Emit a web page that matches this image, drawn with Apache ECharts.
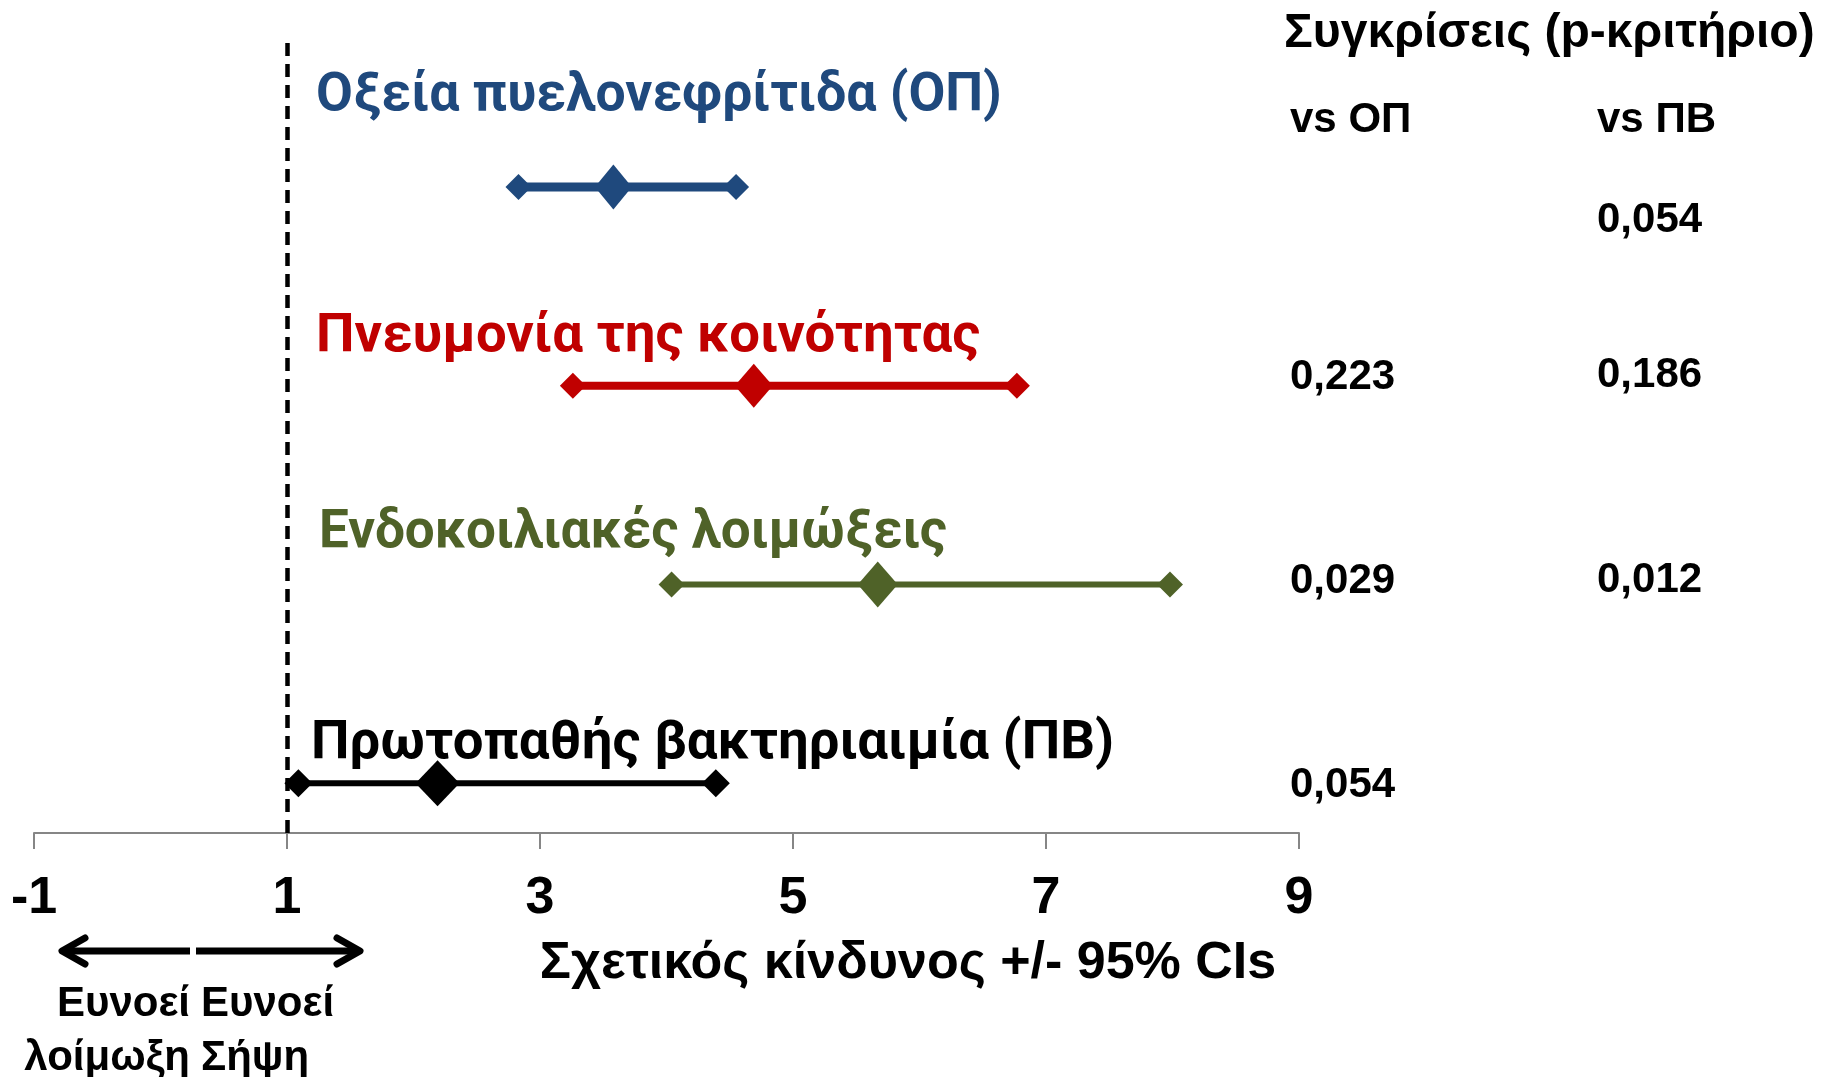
<!DOCTYPE html>
<html><head><meta charset="utf-8">
<script src="https://cdn.jsdelivr.net/npm/echarts@6/dist/echarts.min.js"></script>
<style>html,body{margin:0;padding:0;background:#fff}#c{width:1831px;height:1077px}</style>
</head><body><div id="c"></div>
<script>
const categories = ['Οξεία πυελονεφρίτιδα (ΟΠ)', 'Πνευμονία της κοινότητας', 'Ενδοκοιλιακές λοιμώξεις', 'Πρωτοπαθής βακτηριαιμία (ΠΒ)'];
const rowPos = [4, 3, 2, 1];
const rrLow = [2.83, 3.26, 4.04, 1.09];
const rrPoint = [3.58, 4.69, 5.67, 2.19];
const rrHigh = [4.55, 6.77, 7.98, 4.39];
const pVsOP = ['', '0,223', '0,029', '0,054'];
const pVsPB = ['0,054', '0,186', '0,012', ''];
const xTicks = [-1, 1, 3, 5, 7, 9];
const refValue = 1;
const headerTitle = 'Συγκρίσεις (p-κριτήριο)';
const colHeaders = ['vs ΟΠ', 'vs ΠΒ'];
const axisTitle = 'Σχετικός κίνδυνος +/- 95% CIs';
const favourLeft = ['Ευνοεί', 'λοίμωξη'];
const favourRight = ['Ευνοεί', 'Σήψη'];

const colors = ['#1F497D', '#C00000', '#4F6228', '#000000'];
const lineWidths = [9, 8, 6, 6];
const centerSizes = [[37, 45], [38, 44], [40, 46], [44, 46]];
const endSizes = [[26, 26], [26, 26], [26, 26], [28, 28]];
const labelPos = [[316, 97], [316, 337], [319, 534], [311, 744]];
const labelSizes = [53.5, 54.5, 53, 54.5];
const pOPPos = [null, [1290, 377], [1290, 581], [1290, 785]];
const pPBPos = [[1597, 220], [1597, 375], [1597, 580], null];

const chart = echarts.init(document.getElementById('c'), null, {renderer: 'canvas'});
const AR = '"Liberation Sans", Arial, sans-serif';
const LBL = 'Roboto, "Noto Sans", sans-serif';

const series = categories.map((name, i) => ({
  type: 'line',
  name: name,
  data: [[rrLow[i], rowPos[i]], [rrPoint[i], rowPos[i]], [rrHigh[i], rowPos[i]]],
  symbol: 'diamond',
  symbolSize: (v, p) => p.dataIndex === 1 ? centerSizes[i] : endSizes[i],
  showAllSymbol: true,
  lineStyle: {color: colors[i], width: lineWidths[i]},
  itemStyle: {color: colors[i], opacity: 1},
  z: 3,
  animation: false,
  silent: true
}));
series.push({
  type: 'line', data: [], silent: true, animation: false,
  markLine: {
    symbol: 'none', silent: true, animation: false,
    label: {show: false},
    lineStyle: {color: '#000', type: [13, 8], width: 4.5},
    data: [{xAxis: refValue}]
  }
});

const graphic = [];
categories.forEach((name, i) => {
  graphic.push({type: 'text', x: labelPos[i][0], y: labelPos[i][1],
    style: {text: name, fill: colors[i], font: 'bold ' + labelSizes[i] + 'px ' + LBL, verticalAlign: 'middle', align: 'left'}});
});
graphic.push({type: 'text', x: 1284, y: 34, style: {text: headerTitle, fill: '#000', font: 'bold 48px ' + AR, verticalAlign: 'middle'}});
graphic.push({type: 'text', x: 1290, y: 120, style: {text: colHeaders[0], fill: '#000', font: 'bold 42px ' + AR, verticalAlign: 'middle'}});
graphic.push({type: 'text', x: 1597, y: 120, style: {text: colHeaders[1], fill: '#000', font: 'bold 42px ' + AR, verticalAlign: 'middle'}});
pVsOP.forEach((t, i) => { if (t && pOPPos[i]) graphic.push({type: 'text', x: pOPPos[i][0], y: pOPPos[i][1], style: {text: t, fill: '#000', font: 'bold 42px ' + AR, verticalAlign: 'middle'}}); });
pVsPB.forEach((t, i) => { if (t && pPBPos[i]) graphic.push({type: 'text', x: pPBPos[i][0], y: pPBPos[i][1], style: {text: t, fill: '#000', font: 'bold 42px ' + AR, verticalAlign: 'middle'}}); });
graphic.push({type: 'text', x: 908, y: 964, style: {text: axisTitle, fill: '#000', font: 'bold 52px ' + AR, verticalAlign: 'middle', align: 'center'}});
// arrows
const arrowStyle = {stroke: '#000', lineWidth: 7, lineCap: 'round', lineJoin: 'round', fill: null};
graphic.push({type: 'line', shape: {x1: 63, y1: 951, x2: 190, y2: 951}, style: Object.assign({}, arrowStyle, {lineCap: 'butt'})});
graphic.push({type: 'polyline', shape: {points: [[85, 938], [62, 951], [85, 964]]}, style: arrowStyle});
graphic.push({type: 'line', shape: {x1: 196, y1: 951, x2: 359, y2: 951}, style: Object.assign({}, arrowStyle, {lineCap: 'butt'})});
graphic.push({type: 'polyline', shape: {points: [[337, 938], [360, 951], [337, 964]]}, style: arrowStyle});
graphic.push({type: 'text', x: 190, y: 1004, style: {text: favourLeft[0], fill: '#000', font: 'bold 42px ' + AR, verticalAlign: 'middle', align: 'right'}});
graphic.push({type: 'text', x: 190, y: 1058, style: {text: favourLeft[1], fill: '#000', font: 'bold 42px ' + AR, verticalAlign: 'middle', align: 'right'}});
graphic.push({type: 'text', x: 201, y: 1004, style: {text: favourRight[0], fill: '#000', font: 'bold 42px ' + AR, verticalAlign: 'middle', align: 'left'}});
graphic.push({type: 'text', x: 201, y: 1058, style: {text: favourRight[1], fill: '#000', font: 'bold 42px ' + AR, verticalAlign: 'middle', align: 'left'}});

chart.setOption({
  backgroundColor: '#fff',
  animation: false,
  grid: {left: 34, right: 532, top: 38, bottom: 244, containLabel: false},
  xAxis: {
    type: 'value', min: xTicks[0], max: xTicks[xTicks.length - 1], interval: 2,
    axisLine: {show: true, lineStyle: {color: '#868686', width: 2}},
    axisTick: {show: true, length: 16, lineStyle: {color: '#868686', width: 2}},
    splitLine: {show: false},
    axisLabel: {show: true, color: '#000', fontFamily: 'Liberation Sans, Arial', fontWeight: 'bold', fontSize: 52, margin: 40,
      formatter: v => xTicks.includes(v) ? String(v) : ''}
  },
  yAxis: {
    type: 'value', min: 0.75, max: 4.75, show: false
  },
  series: series,
  graphic: graphic
});
</script></body></html>
